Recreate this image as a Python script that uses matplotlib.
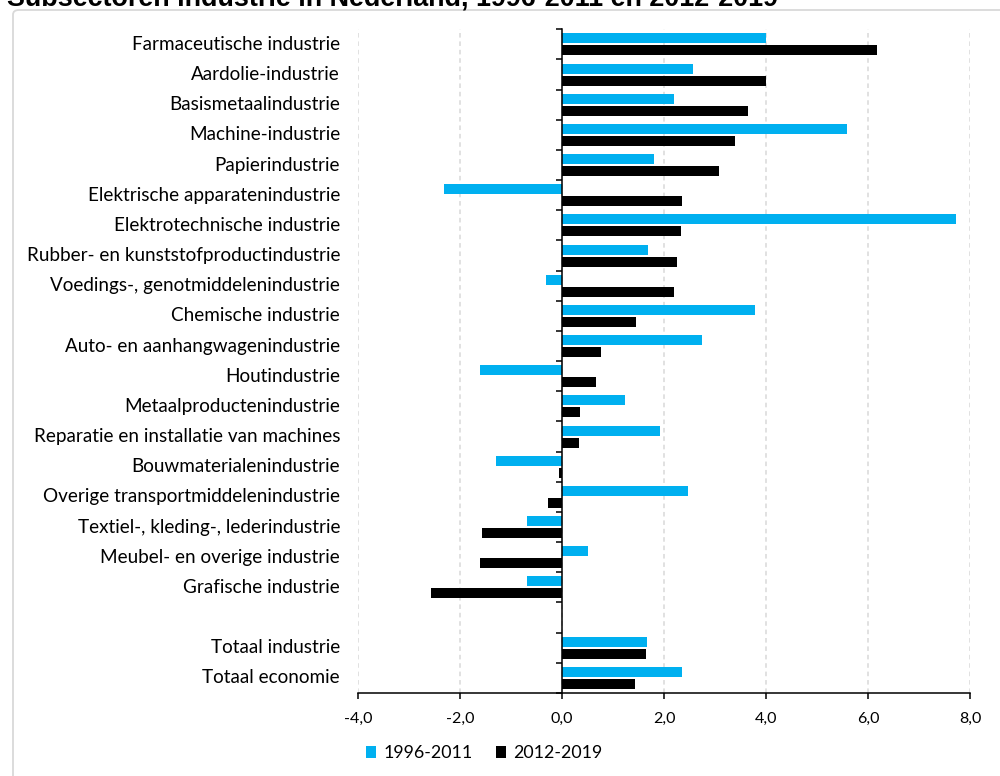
import numpy as np
import matplotlib
matplotlib.use('Agg')
import matplotlib.pyplot as plt
from matplotlib.patches import Patch, FancyBboxPatch

# data (growth, % per year)
categories = [
    'Farmaceutische industrie', 'Aardolie-industrie', 'Basismetaalindustrie',
    'Machine-industrie', 'Papierindustrie', 'Elektrische apparatenindustrie',
    'Elektrotechnische industrie', 'Rubber- en kunststofproductindustrie',
    'Voedings-, genotmiddelenindustrie', 'Chemische industrie',
    'Auto- en aanhangwagenindustrie', 'Houtindustrie', 'Metaalproductenindustrie',
    'Reparatie en installatie van machines', 'Bouwmaterialenindustrie',
    'Overige transportmiddelenindustrie', 'Textiel-, kleding-, lederindustrie',
    'Meubel- en overige industrie', 'Grafische industrie', '',
    'Totaal industrie', 'Totaal economie',
]
period1 = [4.00, 2.57, 2.19, 5.59, 1.80, -2.31, 7.73, 1.68, -0.32, 3.79, 2.75,
           -1.61, 1.24, 1.93, -1.29, 2.47, -0.68, 0.51, -0.68, np.nan, 1.67, 2.35]
period2 = [6.17, 4.00, 3.64, 3.40, 3.07, 2.36, 2.34, 2.25, 2.20, 1.46, 0.76,
           0.67, 0.35, 0.33, -0.05, -0.28, -1.56, -1.60, -2.57, np.nan, 1.65, 1.43]
series_names = ['1996-2011', '2012-2019']
xticks = [-4, -2, 0, 2, 4, 6, 8]
xtick_labels = ['-4,0', '-2,0', '0,0', '2,0', '4,0', '6,0', '8,0']
title = 'Subsectoren industrie in Nederland, 1996-2011 en 2012-2019'

BLUE = '#00B0F0'
BLACK = '#000000'
FONT = ['Lato', 'DejaVu Sans']

plt.rcParams['font.family'] = FONT

fig = plt.figure(figsize=(10, 7.76), dpi=100)

# light grey frame around the chart area (runs off the picture right and bottom)
frame = FancyBboxPatch((13 / 1000, -0.05), 1.2, 1 - 10 / 776 + 0.05,
                       boxstyle='round,pad=0,rounding_size=0.006',
                       transform=fig.transFigure, facecolor='none',
                       edgecolor='#D9D9D9', linewidth=1.3, clip_on=False)
fig.patches.append(frame)

# title is cut off at the top in the original
fig.text(7 / 1000, 1 - 5 / 776, title, fontsize=19.4, fontweight='bold',
         family=['Liberation Sans', 'DejaVu Sans'], va='baseline', ha='left')

ax = fig.add_axes([0.358, 0.107, 0.612, 0.8552])

y = np.arange(len(categories))
ax.barh(y - 0.2, period1, height=0.33, color=BLUE, label=series_names[0])
ax.barh(y + 0.2, period2, height=0.33, color=BLACK, label=series_names[1])

ax.set_ylim(len(categories) - 0.5, -0.5)
ax.set_xlim(-4, 8)

# y axis sits at zero, with tick marks between the categories
ax.spines['left'].set_position(('data', 0))
ax.spines['left'].set_linewidth(1.1)
ax.spines['bottom'].set_linewidth(1.1)
ax.spines['top'].set_visible(False)
ax.spines['right'].set_visible(False)
ax.set_yticks(np.arange(-0.5, len(categories), 1.0))
ax.set_yticklabels([])
ax.tick_params(axis='y', direction='out', length=4.5, width=1.1)

ax.set_xticks(xticks)
ax.set_xticklabels(xtick_labels)
ax.tick_params(axis='x', direction='out', length=4.5, width=1.1,
               labelsize=11.5, pad=9)

ax.set_axisbelow(True)
ax.xaxis.grid(True, linestyle=(0, (3, 2.5)), color='#D9D9D9', linewidth=1.1)

# category labels on the far left
for yi, name in zip(y, categories):
    ax.text(-0.0294, yi, name, transform=ax.get_yaxis_transform(),
            ha='right', va='center', fontsize=13.6)

handles = [Patch(facecolor=BLUE), Patch(facecolor=BLACK)]
fig.legend(handles, series_names, loc='center left',
           bbox_to_anchor=(0.366, 1 - 753 / 776), ncol=2, frameon=False,
           fontsize=12.8, handlelength=0.57, handleheight=0.62,
           handletextpad=0.4, columnspacing=1.3, borderpad=0, borderaxespad=0)

fig.savefig('out.png', dpi=100)
